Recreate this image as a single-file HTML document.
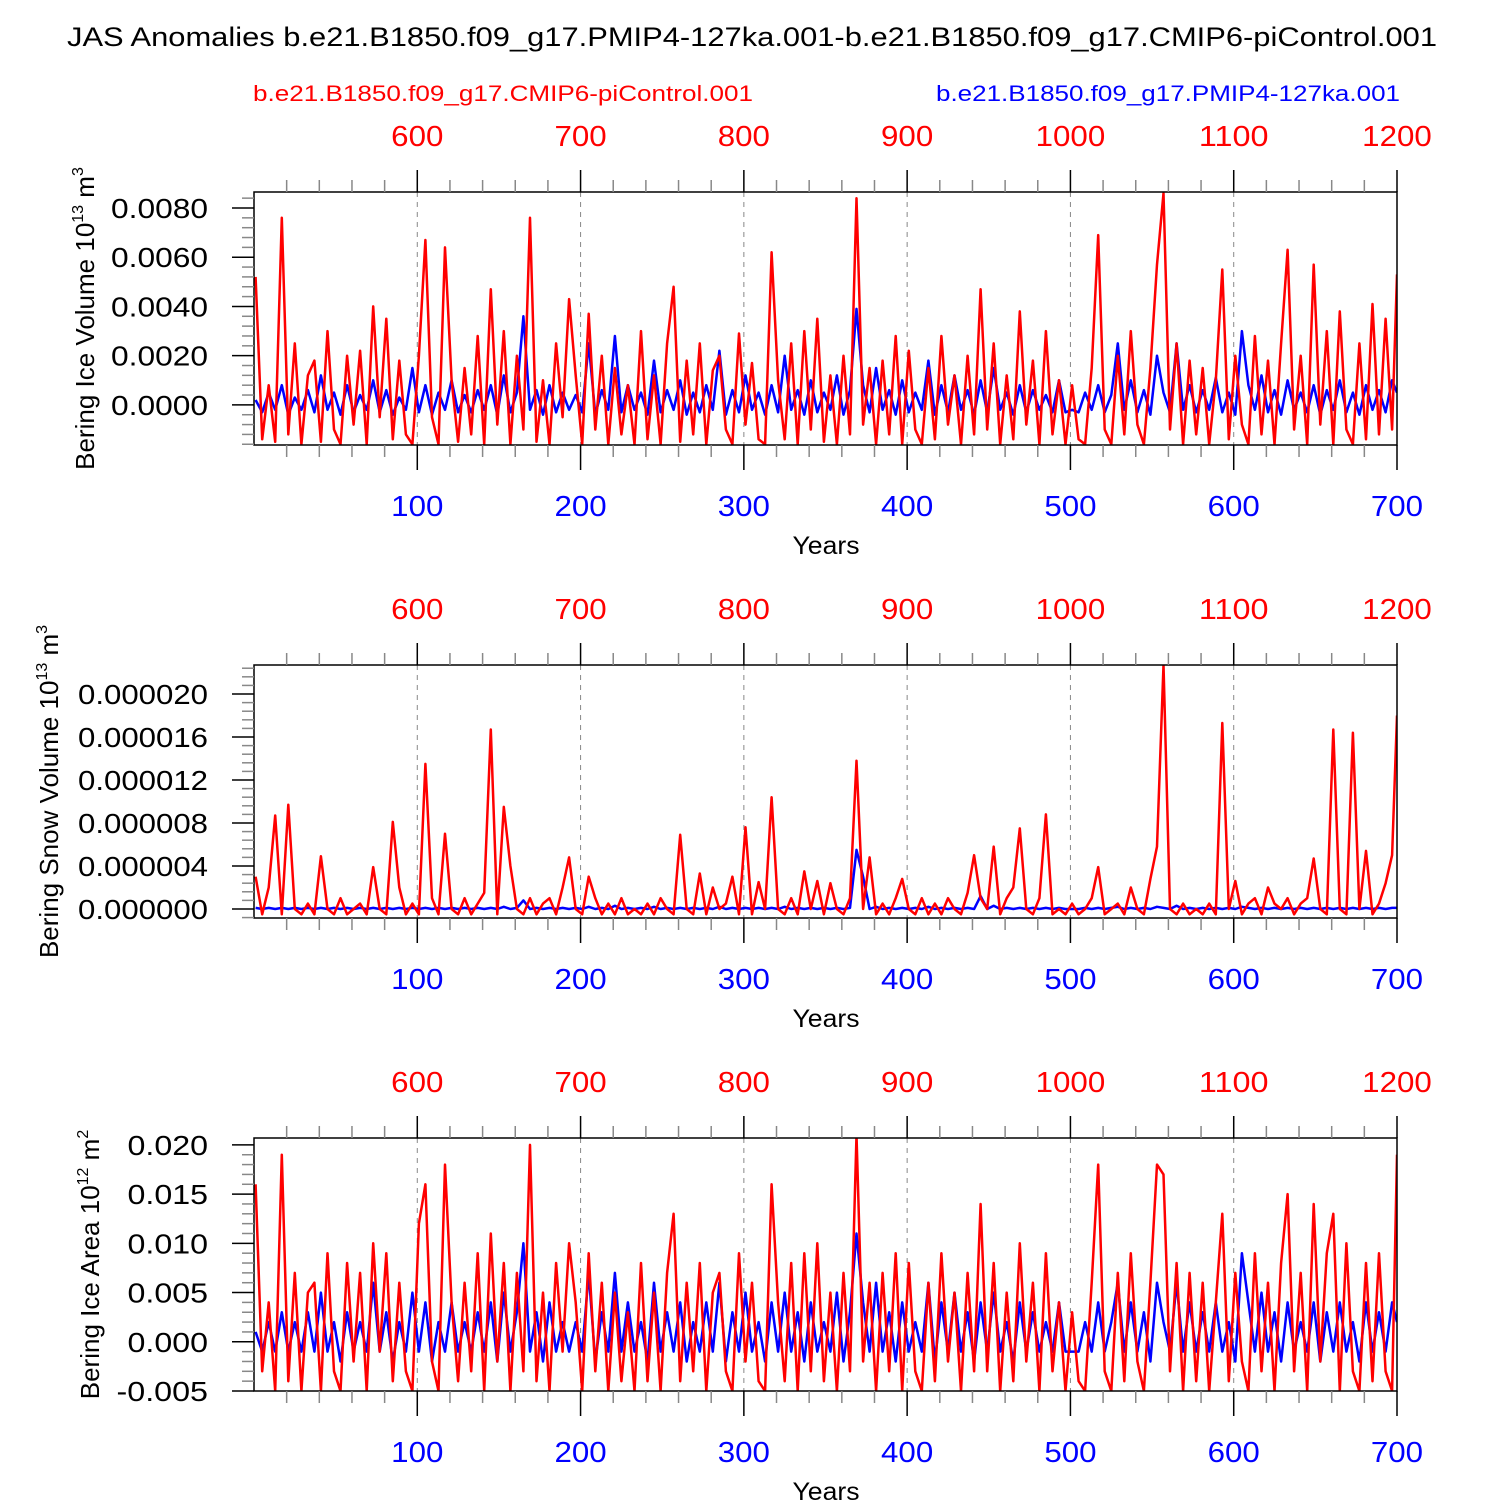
<!DOCTYPE html>
<html><head><meta charset="utf-8"><style>
body{margin:0;background:#fff}
svg{display:block;font-family:"Liberation Sans",Arial,sans-serif}
</style></head><body>
<svg id="chart" width="1500" height="1500" viewBox="0 0 1500 1500">
<text x="752" y="46" font-size="27" textLength="1370" lengthAdjust="spacingAndGlyphs" text-anchor="middle">JAS Anomalies b.e21.B1850.f09_g17.PMIP4-127ka.001-b.e21.B1850.f09_g17.CMIP6-piControl.001</text>
<text x="503" y="101" font-size="22" textLength="500" lengthAdjust="spacingAndGlyphs" fill="#f00" text-anchor="middle">b.e21.B1850.f09_g17.CMIP6-piControl.001</text>
<text x="1168" y="101" font-size="22" textLength="464" lengthAdjust="spacingAndGlyphs" fill="#00f" text-anchor="middle">b.e21.B1850.f09_g17.PMIP4-127ka.001</text>
</svg>
<script>
// ---- data (step 4 years, starting year 1) ----
const yearStart = 1, yearStep = 4;
const xTicksBottom = [100,200,300,400,500,600,700];
const xTicksTop = [600,700,800,900,1000,1100,1200];
// Ice volume, units 1e-4 (10^13 m^3)
const iceVolRed = [52,-14,8,-15,76,-12,25,-16,12,18,-15,30,-10,-16,20,-8,
22,-16,40,-5,35,-14,18,-12,-16,20,67,-5,-16,64,10,-15,
15,-12,28,-16,47,-8,30,-16,20,-10,76,-15,10,-16,25,-5,
43,12,-16,37,-10,20,-16,15,-12,8,-16,30,-14,12,-16,25,
48,-15,18,-12,25,-16,14,20,-10,-16,29,-8,17,-14,-16,62,
10,-14,25,-16,30,-10,35,-15,12,-16,20,-12,84,-8,15,-16,
18,-12,28,-16,22,-10,-16,15,-14,28,-8,12,-16,20,-12,47,
-10,25,-16,12,-14,38,-8,18,-16,30,-12,10,-16,8,-14,-16,
15,69,-10,-16,20,-12,30,-8,-16,15,57,86,-10,25,-16,18,
-12,15,-16,10,55,-14,20,-8,-16,28,-12,18,-16,25,63,-10,
20,-16,57,-8,30,-16,38,-10,-16,25,-14,41,-12,35,-10,53];
const iceVolBlue = [2,-3,5,-2,8,-4,3,-2,6,-3,12,-2,5,-4,8,-3,
4,-2,10,-3,6,-4,3,-2,15,-3,8,-4,5,-2,10,-3,
4,-3,6,-2,8,-4,12,-3,5,36,-2,6,-4,8,-3,5,
-2,4,-3,25,-4,6,-2,28,-3,8,-2,5,-4,18,-3,6,
-2,10,-4,5,-3,8,-2,22,-4,6,-3,12,-2,5,-4,8,
-3,20,-2,6,-4,10,-3,5,-2,12,-4,6,39,8,-3,15,
-2,6,-4,10,-3,5,-2,18,-4,8,-3,12,-2,6,-4,10,
-3,15,-2,5,-4,8,-3,6,-2,4,-3,10,-3,-2,-3,5,
-2,8,-3,4,25,-2,10,-3,6,-4,20,5,-3,25,-2,8,
-3,6,-2,11,-3,5,-4,30,8,-2,12,-3,6,-4,10,-2,
5,-3,8,-4,6,-2,10,-3,5,-4,8,-2,6,-3,10,5];
// Snow volume, units 1e-6
const snowRed = [3,-0.5,2,8.7,-0.5,9.7,0,-0.5,0.5,-0.5,4.9,0,-0.5,1,-0.5,0,
0.5,-0.5,3.9,0,-0.5,8.1,2,-0.5,0.5,-0.5,13.5,1,-0.5,7,0,-0.5,
1,-0.5,0.5,1.5,16.7,-0.5,9.5,4,0,-0.5,1,-0.5,0.5,1,-0.5,2,
4.8,0,-0.5,3,1,-0.5,0.5,-0.5,1,-0.5,0,-0.5,0.5,-0.5,1,0,
-0.5,6.9,0,-0.5,3.3,-0.5,2,0,0.5,3,-0.5,7.6,-0.5,2.5,0,10.4,
0,-0.5,1,-0.5,3.5,0,2.6,-0.5,2.4,0,-0.5,1,13.8,0,4.8,-0.5,
0.5,-0.5,1,2.8,0,-0.5,1,-0.5,0.5,-0.5,1,0,-0.5,1.5,5,1,
0,5.8,-0.5,1,2,7.5,0,-0.5,1,8.8,-0.5,0,-0.5,0.5,-0.5,0,
1,3.9,-0.5,0,0.5,-0.5,2,0,-0.5,2.8,5.8,22.7,0,-0.5,0.5,-0.5,
0,-0.5,0.5,-0.5,17.3,0,2.6,-0.5,0.5,1,-0.5,2,0.5,0,1,-0.5,
0.5,1,4.7,0,-0.5,16.7,0,-0.5,16.4,0,5.4,-0.5,0.5,2.4,5,18];
const snowBlue = [0.1,0,0.1,0,0.1,0,0.1,0,0.1,0,0.1,0,0.1,0,0.1,0,
0.1,0,0.1,0,0.1,0,0.1,0,0.1,0,0.1,0,0.1,0,0.1,0,
0.1,0,0.1,0,0.1,0,0.2,0,0.1,0.8,0,0.1,0,0.1,0,0.1,
0,0.1,0,0.2,0,0.1,0,0.3,0,0.1,0,0.1,0,0.2,0,0.1,
0,0.1,0,0.1,0,0.1,0,0.2,0,0.1,0,0.1,0,0.1,0,0.1,
0,0.2,0,0.1,0,0.1,0,0.1,0,0.1,0,0.1,5.5,3,0,0.2,
0,0.1,0,0.1,0,0.1,0,0.2,0,0.1,0,0.1,0,0.1,0,1.2,
0,0.3,0,0.1,0,0.1,0,0.1,0,0.1,0,0.1,0,0,0,0.1,
0,0.1,0,0.1,0.2,0,0.1,0,0.1,0,0.2,0.1,0,0.3,0,0.1,
0,0.1,0,0.1,0,0.1,0,0.2,0.1,0,0.1,0,0.1,0,0.1,0,
0.1,0,0.1,0,0.1,0,0.1,0,0.1,0,0.1,0,0.1,0,0.1,0.1];
// Ice area, units 1e-3 (10^12 m^2)
const areaRed = [16,-3,4,-5,19,-4,7,-5,5,6,-5,9,-3,-5,8,-2,
7,-5,10,-1,9,-4,6,-3,-5,12,16,-2,-5,18,4,-4,
6,-3,9,-5,11,-2,8,-5,7,-3,20,-4,5,-5,8,-1,
10,4,-5,9,-3,6,-5,5,-4,3,-5,8,-4,5,-5,7,
13,-4,6,-3,8,-5,5,7,-3,-5,9,-2,6,-4,-5,16,
4,-4,8,-5,9,-3,10,-4,5,-5,7,-3,21,-2,6,-5,
7,-3,9,-5,8,-3,-5,6,-4,9,-2,5,-5,7,-3,14,
-3,8,-5,5,-4,10,-2,6,-5,9,-3,4,-5,3,-4,-5,
6,18,-3,-5,7,-4,9,-2,-5,6,18,17,-3,8,-5,7,
-4,6,-5,4,13,-4,7,-2,-5,9,-3,6,-5,8,15,-3,
7,-5,14,-2,9,13,-5,10,-3,-5,8,-4,9,-3,-5,19];
const areaBlue = [1,-1,2,-1,3,-1,2,-1,3,-1,5,-1,2,-2,3,-1,
2,-1,6,-1,3,-2,2,-1,5,-1,4,-2,2,-1,4,-1,
2,-1,3,-1,4,-2,5,-1,3,10,-1,3,-2,4,-1,2,
-1,2,-1,7,-2,3,-1,7,-1,4,-1,2,-2,6,-1,3,
-1,4,-2,2,-1,4,-1,6,-2,3,-1,5,-1,2,-2,4,
-1,5,-1,3,-2,4,-1,2,-1,5,-2,3,11,4,-1,6,
-1,3,-2,4,-1,2,-1,6,-2,4,-1,5,-1,3,-2,4,
-1,5,-1,2,-2,4,-1,3,-1,2,-1,4,-1,-1,-1,2,
-1,4,-1,2,6,-1,4,-1,3,-2,6,2,-1,6,-1,4,
-1,3,-1,4,-1,2,-2,9,4,-1,5,-1,3,-2,4,-1,
2,-1,4,-2,3,-1,4,-1,2,-2,4,-1,3,-1,4,2];
const iceVolTicks = ["0.0000","0.0020","0.0040","0.0060","0.0080"];
const snowTicks = ["0.000000","0.000004","0.000008","0.000012","0.000016","0.000020"];
const areaTicks = ["-0.005","0.000","0.005","0.010","0.015","0.020"];

const NS="http://www.w3.org/2000/svg";
const svg=document.getElementById('chart');
function mk(tag,attrs,parent){const e=document.createElementNS(NS,tag);for(const k in attrs)e.setAttribute(k,attrs[k]);(parent||svg).appendChild(e);return e;}
const X0=254,X1=1397;
function xScale(yr){return X0+(yr-0)*(X1-X0)/700;}
function labelWidth(s){let w=0;for(const c of s){w+= c==='.'?14.5:(c==='-'?11:16.5);}return w;}

function panel(idx,oy,yMin,yMax,unit,ticks,redVals,blueVals,titleParts,titleX,titleLen){
  const top=192+oy,bot=445+oy;
  const yS=v=>bot-(v-yMin)*(bot-top)/(yMax-yMin);
  const g=mk('g',{});
  
  
  const cid='clip'+idx;
  const cp=mk('clipPath',{id:cid},g);mk('rect',{x:X0,y:top,width:X1-X0,height:bot-top},cp);
  xTicksBottom.forEach(t=>{if(t<700){const l=mk('line',{x1:xScale(t),x2:xScale(t),y1:top,y2:bot,stroke:'#888','stroke-width':1,'stroke-dasharray':'5,5'},g);
    }});
  function series(vals,color,name){
    let d='';vals.forEach((v,i)=>{const yr=Math.min(700,yearStart+i*yearStep);d+=(i?'L':'M')+xScale(yr).toFixed(1)+','+yS(v*unit).toFixed(1);});
    const p=mk('path',{d:d,fill:'none',stroke:color,'stroke-width':2.5,'stroke-linejoin':'round','clip-path':'url(#'+cid+')'},g);
    
  }
  series(blueVals,'#00f','series-127ka');
  series(redVals,'#f00','series-picontrol');
  const fr=mk('rect',{x:X0,y:top,width:X1-X0,height:bot-top,fill:'none',stroke:'#000','stroke-width':1.5},g);
  
  for(let t=20;t<=700;t+=20){const x=xScale(t);const maj=t%100===0;
    mk('line',{x1:x,x2:x,y1:top,y2:top-(maj?22:12),stroke:maj?'#000':'#888','stroke-width':1.5},g);
    mk('line',{x1:x,x2:x,y1:bot,y2:bot+(maj?25:12),stroke:maj?'#000':'#888','stroke-width':1.5},g);}
  xTicksBottom.forEach(t=>{const s=String(t);const e=mk('text',{x:xScale(t),y:bot+71,'font-size':29,fill:'#00f','text-anchor':'middle',textLength:s.length*17.4,lengthAdjust:'spacingAndGlyphs'},g);e.textContent=s;
    });
  xTicksTop.forEach((t,i)=>{const s=String(t);const e=mk('text',{x:xScale(xTicksBottom[i]),y:top-46,'font-size':29,fill:'#f00','text-anchor':'middle',textLength:s.length*17.4,lengthAdjust:'spacingAndGlyphs'},g);e.textContent=s;
    });
  const xt=mk('text',{x:826,y:bot+109,'font-size':25,'text-anchor':'middle',textLength:67,lengthAdjust:'spacingAndGlyphs'},g);xt.textContent='Years';
  
  const tv=ticks.map(Number);const step=tv[1]-tv[0];const minor=step/5;
  for(let k=Math.ceil(yMin/minor-1e-6);k*minor<=yMax+1e-12;k++){const v=k*minor;const y=yS(v);
    const maj=Math.abs(v/step-Math.round(v/step))<1e-6;
    mk('line',{x1:X0,x2:X0-(maj?22:12),y1:y,y2:y,stroke:maj?'#000':'#888','stroke-width':1.5},g);}
  ticks.forEach(t=>{const e=mk('text',{x:208,y:yS(Number(t))+10,'font-size':28,'text-anchor':'end',textLength:labelWidth(t),lengthAdjust:'spacingAndGlyphs'},g);e.textContent=t;
    });
  const cy=(top+bot)/2;
  const yt=mk('text',{x:0,y:0,'font-size':26,'text-anchor':'middle',transform:'translate('+titleX+','+cy+') rotate(-90)'},g);
  
  titleParts.forEach(p=>{const s=mk('tspan',{},yt);s.textContent=p[0];if(p[1]){s.setAttribute('font-size',16);s.setAttribute('dy',-11);}else if(p[2]){s.setAttribute('dy',11);}});
}
panel(1,0,-0.00163,0.00865,1e-4,iceVolTicks,iceVolRed,iceVolBlue,[["Bering Ice Volume 10"],["13",1],[" m",0,1],["3",1]],94);
panel(2,473,-0.84e-6,22.7e-6,1e-6,snowTicks,snowRed,snowBlue,[["Bering Snow Volume 10"],["13",1],[" m",0,1],["3",1]],58);
panel(3,946,-0.005,0.0207,1e-3,areaTicks,areaRed,areaBlue,[["Bering Ice Area 10"],["12",1],[" m",0,1],["2",1]],99);
</script>
</body></html>
